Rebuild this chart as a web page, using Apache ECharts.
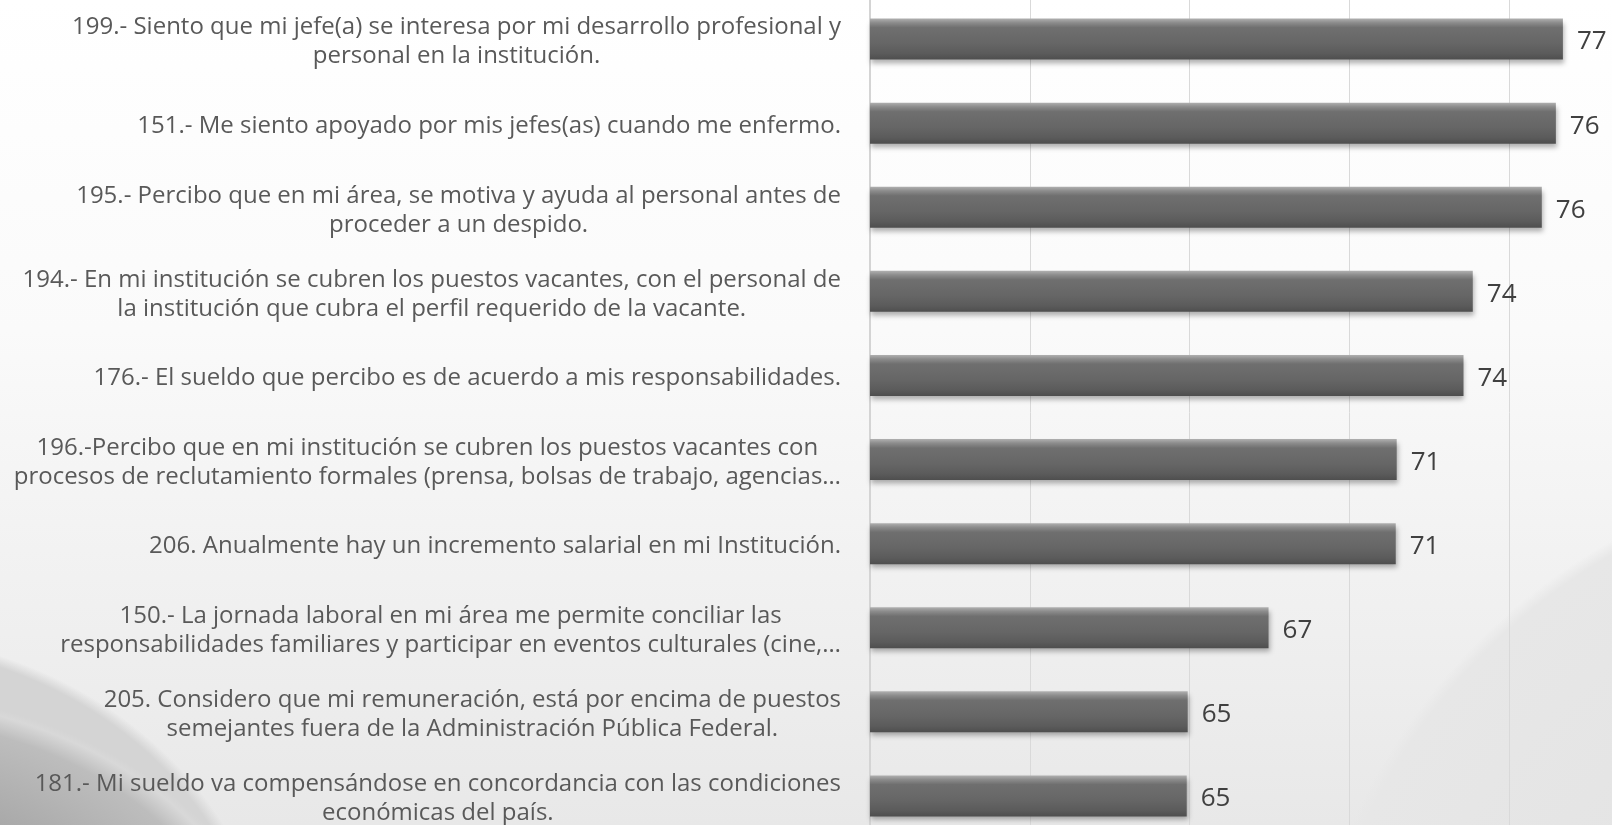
<!DOCTYPE html>
<html>
<head>
<meta charset="utf-8">
<script src="https://cdn.jsdelivr.net/npm/echarts@6/dist/echarts.min.js"></script>
<style>
    html, body { margin: 0; padding: 0; }
    body {
        width: 1612px; height: 825px; overflow: hidden;
        background:
            radial-gradient(ellipse 430px 310px at -150px 1000px, #8c8c8c 0%, #a4a4a4 60%, #bdbdbd 92%, #d8d8d8 98%, rgba(255,255,255,0) 100%),
            radial-gradient(ellipse 425px 368px at -150px 1000px, #d4d4d4 0%, #d4d4d4 97%, rgba(255,255,255,0) 100%),
            radial-gradient(ellipse 610px 635px at 1900px 1100px, #e0e0e0 0%, #e7e7e7 98%, rgba(255,255,255,0) 100%),
            linear-gradient(to bottom, #ffffff 0%, #fafafa 40%, #e8e8e8 100%);
    }
    #chart { width: 1612px; height: 825px; }
</style>
</head>
<body>
<div id="chart"></div>
<script>
// preguntas, de arriba hacia abajo ('\n' = salto de linea)
var categories = [
    '199.- Siento que mi jefe(a) se interesa por mi desarrollo profesional y\npersonal en la institución.',
    '151.- Me siento apoyado por mis jefes(as) cuando me enfermo.',
    '195.- Percibo que en mi área, se motiva y ayuda al personal antes de\nproceder a un despido.',
    '194.- En mi institución se cubren los puestos vacantes, con el personal de\nla institución que cubra el perfil requerido de la vacante.',
    '176.- El sueldo que percibo es de acuerdo a mis responsabilidades.',
    '196.-Percibo que en mi institución se cubren los puestos vacantes con\nprocesos de reclutamiento formales (prensa, bolsas de trabajo, agencias…',
    '206. Anualmente hay un incremento salarial en mi Institución.',
    '150.- La jornada laboral en mi área me permite conciliar las\nresponsabilidades familiares y participar en eventos culturales (cine,…',
    '205. Considero que mi remuneración, está por encima de puestos\nsemejantes fuera de la Administración Pública Federal.',
    '181.- Mi sueldo va compensándose en concordancia con las condiciones\neconómicas del país.'
];
var values = [76.68, 76.46, 76.02, 73.86, 73.57, 71.48, 71.45, 67.47, 64.94, 64.91];

var axisMin = 55;
var axisMax = 80;
var axisStep = 5;

var chart = echarts.init(document.getElementById('chart'));

var barColor = new echarts.graphic.LinearGradient(0, 0, 0, 1, [
    {offset: 0, color: '#b0b0b0'},
    {offset: 0.1, color: '#8c8c8c'},
    {offset: 0.22, color: '#6f6f6f'},
    {offset: 0.6, color: '#666666'},
    {offset: 0.85, color: '#5b5b5b'},
    {offset: 1, color: '#4e4e4e'}
]);

var opt = {
    animation: false,
    grid: {
        left: 870,
        top: -3,
        width: 799,
        height: 841,
        outerBoundsMode: 'none'
    },
    xAxis: {
        type: 'value',
        min: axisMin,
        max: axisMax,
        interval: axisStep,
        axisLabel: { show: false },
        axisTick: { show: false },
        axisLine: { show: false },
        splitLine: {
            lineStyle: { color: '#d9d9d9', width: 1 }
        }
    },
    yAxis: {
        type: 'category',
        inverse: true,
        data: categories,
        axisTick: { show: false },
        axisLine: {
            lineStyle: { color: '#d4d4d4', width: 2 }
        },
        axisLabel: {
            margin: 29,
            align: 'right',
            padding: [6, 0, 0, 0],
            formatter: function(v) {
                return v.split('\n').map(function(l) {
                    return '{c|' + l + '}';
                }).join('\n');
            },
            rich: {
                c: {
                    align: 'center',
                    fontFamily: 'Open Sans',
                    fontSize: 24,
                    lineHeight: 29,
                    color: '#595959'
                }
            }
        }
    },
    series: [
        {
            name: 'valor',
            type: 'bar',
            data: values,
            barWidth: 41,
            itemStyle: {
                color: barColor,
                shadowColor: 'rgba(0,0,0,0.3)',
                shadowBlur: 5,
                shadowOffsetX: 1,
                shadowOffsetY: 4
            },
            label: {
                show: true,
                position: 'right',
                distance: 14,
                offset: [0, 3],
                fontFamily: 'Open Sans',
                fontSize: 26,
                color: '#404040',
                formatter: function(p) {
                    return Math.round(p.value);
                }
            }
        }
    ]
};

chart.setOption(opt);
</script>
</body>
</html>
